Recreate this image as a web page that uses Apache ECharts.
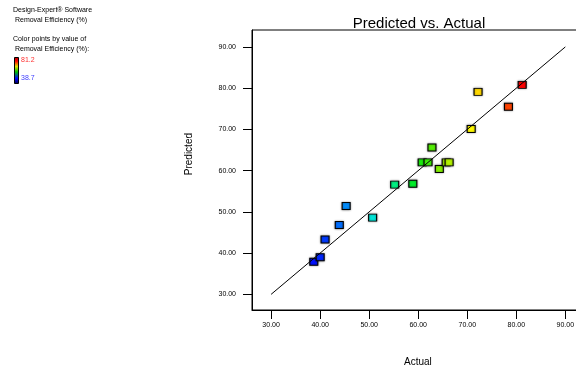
<!DOCTYPE html>
<html>
<head>
<meta charset="utf-8">
<script src="https://cdn.jsdelivr.net/npm/echarts@6/dist/echarts.min.js"></script>
<style>
  html, body { margin: 0; padding: 0; background: #fff; }
  #main { width: 576px; height: 370px; }
</style>
</head>
<body>
<div id="main"></div>
<script>
// values
var actual    = [38.7, 40.0, 41.0, 43.9, 45.3, 50.7, 55.2, 58.9, 60.8, 62.0, 62.8, 64.3, 65.7, 66.3, 70.8, 72.2, 78.4, 81.2];
var predicted = [37.9, 39.0, 43.3, 46.8, 51.4, 48.6, 56.6, 56.8, 62.0, 62.0, 65.6, 60.4, 62.0, 62.0, 70.1, 79.1, 75.5, 80.8];
var refLine = [30, 90];
var ticks = [30, 40, 50, 60, 70, 80, 90];
var colorMin = 38.7, colorMax = 81.2;

var font = '"Liberation Sans Narrow", "Liberation Sans", Arial, sans-serif';

var chart = echarts.init(document.getElementById('main'));

var points = actual.map(function (a, i) { return [a, predicted[i]]; });

var axisCommon = {
    type: 'value',
    splitLine: { show: false },
    axisLine: { show: true, lineStyle: { color: '#000', width: 1 } },
    axisTick: { show: true, customValues: ticks, length: 9, lineStyle: { color: '#000', width: 1 } },
    axisLabel: {
        customValues: ticks, fontSize: 7, color: '#000', fontFamily: font,
        formatter: function (v) { return v.toFixed(2); }
    }
};

var option = {
    backgroundColor: '#fff',
    animation: false,
    title: {
        text: 'Predicted vs. Actual',
        left: 414, top: 11, textAlign: 'center',
        textStyle: { fontSize: 15, fontWeight: 'normal', color: '#000', fontFamily: font }
    },
    // plot runs off the right edge, so the right frame line is not seen
    grid: {
        left: 252, top: 30, width: 330, bottom: 60,
        outerBoundsMode: 'none', containLabel: false,
        show: true, borderColor: '#000', borderWidth: 1
    },
    xAxis: Object.assign({}, axisCommon, {
        min: 26.1, max: 93.4,
        axisLabel: Object.assign({}, axisCommon.axisLabel, { margin: 12 })
    }),
    yAxis: Object.assign({}, axisCommon, {
        min: 26.2, max: 94.1,
        axisLabel: Object.assign({}, axisCommon.axisLabel, { margin: 16 })
    }),
    visualMap: {
        show: false, seriesIndex: 0, dimension: 0, min: colorMin, max: colorMax,
        inRange: { color: ['#0010ff', '#0070ff', '#00e0f0', '#00f090', '#00ee10', '#a0f000', '#ffff00', '#ff8000', '#ff0000'] }
    },
    series: [
        {
            type: 'scatter',
            data: points,
            symbol: 'rect',
            symbolSize: [8, 7],
            itemStyle: { opacity: 1, borderColor: '#000', borderWidth: 1, shadowColor: 'rgba(0,0,0,0.45)', shadowBlur: 2 },
            z: 2
        },
        {
            type: 'line',
            data: [[refLine[0], refLine[0]], [refLine[1], refLine[1]]],
            showSymbol: false,
            symbol: 'none',
            lineStyle: { color: '#000', width: 1 },
            silent: true,
            z: 3
        }
    ],
    graphic: [
        { type: 'text', left: 13, top: 7, style: { text: 'Design-Expert\u00ae Software', fill: '#000', font: '7px ' + font } },
        { type: 'text', left: 13, top: 17, style: { text: ' Removal Efficiency (%)', fill: '#000', font: '7px ' + font } },
        { type: 'text', left: 13, top: 36, style: { text: 'Color points by value of', fill: '#000', font: '7px ' + font } },
        { type: 'text', left: 13, top: 46, style: { text: ' Removal Efficiency (%):', fill: '#000', font: '7px ' + font } },
        {
            type: 'rect', left: 14, top: 57,
            shape: { width: 4, height: 26 },
            style: {
                stroke: '#000', lineWidth: 1,
                fill: new echarts.graphic.LinearGradient(0, 0, 0, 1, [
                    { offset: 0, color: '#a00000' },
                    { offset: 0.15, color: '#ff0000' },
                    { offset: 0.35, color: '#e0e000' },
                    { offset: 0.55, color: '#00c000' },
                    { offset: 0.8, color: '#0000ff' },
                    { offset: 1, color: '#000040' }
                ])
            }
        },
        { type: 'text', left: 21, top: 57, style: { text: '81.2', fill: '#ff3030', font: '7px ' + font } },
        { type: 'text', left: 21, top: 75, style: { text: '38.7', fill: '#4040ff', font: '7px ' + font } },
        { type: 'text', left: 404, top: 357, style: { text: 'Actual', fill: '#000', font: '10px ' + font } },
        { type: 'text', left: 184, top: 133, rotation: Math.PI / 2, style: { text: 'Predicted', fill: '#000', font: '10px ' + font } }
    ]
};

chart.setOption(option);
</script>
</body>
</html>
